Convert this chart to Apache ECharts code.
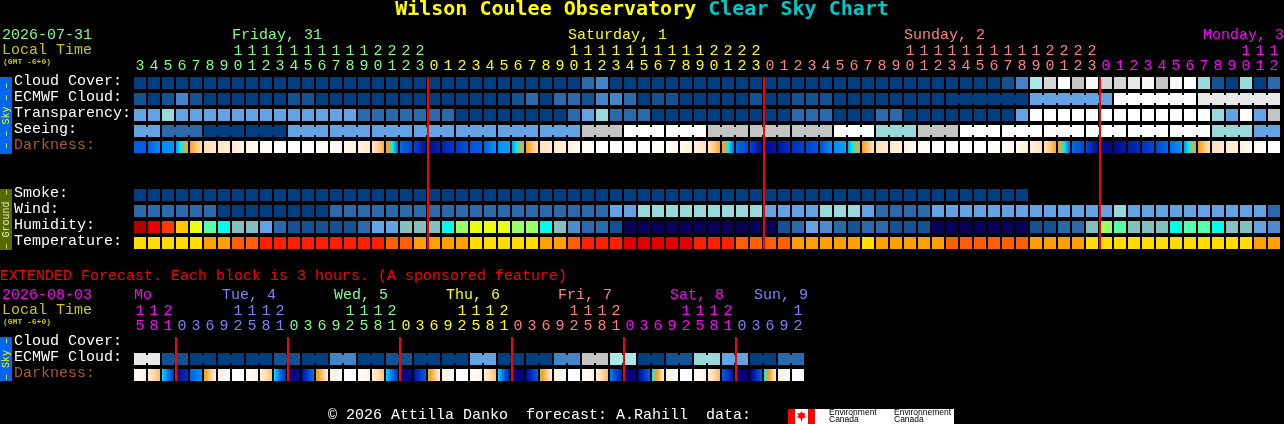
<!DOCTYPE html>
<html><head><meta charset="utf-8">
<style>html,body{margin:0;padding:0;background:#000;overflow:hidden}#c{width:1284px;height:424px}</style>
<script src="https://cdn.jsdelivr.net/npm/echarts@6/dist/echarts.min.js"></script>
</head><body><div id="c"></div>
<script>
// ---------- data ----------
const hours = [3,4,5,6,7,8,9,10,11,12,13,14,15,16,17,18,19,20,21,22,23,
  0,1,2,3,4,5,6,7,8,9,10,11,12,13,14,15,16,17,18,19,20,21,22,23,
  0,1,2,3,4,5,6,7,8,9,10,11,12,13,14,15,16,17,18,19,20,21,22,23,
  0,1,2,3,4,5,6,7,8,9,10,11,12];
const extHours = [15,18,21, 0,3,6,9,12,15,18,21, 0,3,6,9,12,15,18,21, 0,3,6,9,12,15,18,21,
  0,3,6,9,12,15,18,21, 0,3,6,9,12,15,18,21, 0,3,6,9,12];
const rowNames = ['Cloud Cover:','ECMWF Cloud:','Transparency:','Seeing:','Darkness:','','','Smoke:','Wind:','Humidity:','Temperature:'];
const extRowNames = ['Cloud Cover:','ECMWF Cloud:','Darkness:'];
const dayNames = ['Friday, 31','Saturday, 1','Sunday, 2','Monday, 3'];
const dayFirstCol = [0,21,45,69];
const extDayNames = ['Mo','Tue, 4','Wed, 5','Thu, 6','Fri, 7','Sat, 8','Sun, 9'];
const extDayFirstCol = [0,3,11,19,27,35,43];
const midnights = [21,45,69];
const extMidnights = [3,11,19,27,35,43];

const cloud = [0,0,0,0,0,0,0,0,0,0, 0,0,0,0,0,0,0,0,0,0, 0,0,0,0,0,0,0,0,0,0, 0,0,2,3,0,0,0,0,0,0,
  0,0,0,0,0,0,0,0,0,0, 0,0,0,0,0,0,0,0,0,0, 0,0,1,3,6,8,11,7,10,8, 8,9,10,7,10,11,5,1,0,5, 0,2];
const ecmwf = [1,0,1,3,1,0,0,0,0,0, 0,1,1,0,0,0,0,0,0,0, 0,0,0,0,0,0,0,1,2,0, 2,2,1,3,3,2,0,1,1,0,
  0,0,0,0,1,0,0,1,1,1, 0,0,0,0,0,0,0,0,0,0, 0,0,0,0,4,4,4,4,4,4, 11,11,11,11,11,11,9,9,9,9, 9,9];
const transparency = [4,4,5,4,4,4,4,4,4,4, 4,4,4,4,4,4,2,2,2,2, 2,2,2,0,0,0,0,0,0,0, 0,2,4,5,2,2,2,0,0,0,
  0,0,0,0,0,0,0,2,2,2, 0,0,0,2,2,0,0,0,0,0, 0,0,0,4,11,11,11,11,11,11, 11,11,11,11,11,11,11,5,4,11, 4,7];
const seeing = [4,4,2,2,2,0,0,0,0,0, 0,4,4,4,4,4,4,4,4,4, 4,4,4,4,4,4,4,4,4,4, 4,4,7,7,7,11,11,11,11,11,
  11,7,7,7,7,7,7,7,7,7, 11,11,11,5,5,5,7,7,7,11, 11,11,11,11,11,11,11,11,11,11, 11,11,11,11,11,11,11,5,5,5, 4,4];
const smoke = [0,0,0,0,0,0,0,0,0,0, 0,0,0,0,0,0,0,0,0,0, 0,0,0,0,0,0,0,0,0,0, 0,0,0,0,0,0,0,0,0,0,
  0,0,0,0,0,0,0,0,0,0, 0,0,0,0,0,0,0,0,0,0, 0,0,0,0];
const wind = [2,2,2,2,2,2,0,0,0,0, 0,0,0,0,2,2,2,2,2,2, 2,2,2,2,2,2,2,2,2,2, 2,2,2,2,4,4,5,5,5,5,
  5,5,5,5,5,4,4,4,4,5, 5,5,4,2,2,2,2,4,4,4, 4,4,4,4,4,4,4,4,4,4, 5,4,4,4,4,4,4,4,4,4, 4,2];
const humidity = [13,12,11,10,9,7,6,5,5,4, 2,1,1,1,1,1,2,4,4,5, 5,5,6,8,9,9,9,8,8,6, 5,3,2,2,1,0,0,0,0,0,
  0,0,0,0,0,0,1,2,4,3, 2,1,2,2,1,1,1,0,0,0, 0,0,0,0,1,1,2,2,5,8, 7,5,5,5,6,7,7,6,5,5, 4,3];
const temperature = [0,0,0,0,0,1,1,2,2,3, 3,3,3,3,3,3,3,3,2,2, 1,1,1,1,0,0,0,0,0,1, 1,2,3,3,3,4,4,4,4,4,
  3,3,3,2,2,2,2,1,1,1, 1,1,0,1,1,1,1,1,2,2, 2,2,2,2,1,1,1,1,0,0, 0,0,0,0,0,0,0,0,0,0, 1,1];
// darkness level at each hour boundary of the hourly chart (83 values)
const darknessEdges = [8,8,7.3,7.2,4,2.2,1.9,1.5,0.9,0.3, 0,0,0,0,0.3,0.8,1.1,1.7,3.8,7.8,
  8.5,9.7,9.3,8.8,8.3,8,7.2,7,4.2,2.1, 1.7,1.2,0.5,0,0,0,0,0,0.3,0.7,
  1.2,2,3.9,7.8,8.5,9.8,9.5,9,8.6,8.2, 7.3,7,4.1,2.1,1.7,1.2,0.5,0,0,0,
  0,0,0.3,0.7,1.2,2,4,7.8,8.5,9.8, 9.8,9.4,9,8.5,7.8,7.1,4.2,2.1,1.7,1.2, 0.5,0,0];
// blocks of cells that are joined together
const seeingBlocks = [2,3,3,3,3,3,3,3,3,3,3,3,3,3,3,3,3,3,3,3,3,3,3,3,3,3,3,2];
const ecmwfBlocks = [1,1,1,1,1,1,1,1,1,1,1,1,1,1,1,1,1,1,1,1,1,1,1,1,1,1,1,1,1,1,1,1,1,1,1,1,1,1,1,
  1,1,1,1,1,1,1,1,1,1,1,1,1,1,1,1,1,1,1,6,6,6,6];

const extEcmwf = [9,9,1,1,0,0,0,0,0,0, 1,1,0,0,3,3,0,0,1,1, 0,0,0,0,4,4,0,0,0,0, 3,3,7,7,6,6,0,0,1,1, 5,5,4,4,0,0,2,2];
const extEcmwfBlocks = [2,2,2,2,2,2,2,2,2,2,2,2,2,2,2,2,2,2,2,2,2,2,2,2];
const extDarkStart = [0,1.5,6.2,9.8,8,4.5,1.2,0,0.1,1.3, 6.2,9.9,9.6,4.8,1.2,0,0.1,1.3,6.3,9.7,
  9.6,4.8,1.2,0,0.1,1.3,6.3,10,9.8,4.8, 1.2,0,0.1,1.3,7.4,10,9.8,6,1.2,0, 0.1,1.3,8,10,10,6,1.2,0];
const extDarkEnd = [1.3,3.3,9,9,7.2,1.3,0.2,0,1,3.2, 9.2,9.8,7.6,1.4,0.2,0,1,3.2,9,9.9,
  8,1.4,0.2,0,1,3.3,9.5,10,8,1.4, 0.2,0,1,3.4,9.5,10,8,1.6,0.2,0, 1,3.5,9.8,10,8,1.6,0.2,0];

// ---------- styles and layout ----------
const sky = ['#003f7f','#135393','#2a6aaa','#4684c8','#63a3e3','#99d9d9','#a8e8e8','#c4c4c4','#d6d6d6','#e8e8e8','#f6f6f6','#ffffff'];
const humidityColors = ['#060058','#135393','#2a6aaa','#4a8ccc','#63a3e3','#84c0c0','#00ffe8','#55ffaa','#99ff66','#e8ff10','#ffc800','#ff3800','#e80000','#b00000'];
const tempColors = ['#ffdd00','#ff9f00','#ff5f00','#ff2000','#e00000'];
const darkStops = ['#ffffff','#fff4e4','#ffe4c0','#ffc880','#ffa020','#a0c060','#10e8e8','#00a0ff','#0060e0','#0030c0','#000080'];
const dayColors = ['#80ff80','#ffff00','#ff8080','#ff00ff'];
const extDayColors = ['#ff00ff','#8080ff','#80ff80','#ffff00','#ff8080','#ff00ff','#8080ff'];
const dayX = [232,568,904,1203];
const extDayX = [134,222,334,446,558,670,754];
const CELL = 14, RH = 16, BOX = 12, NECK = 8, LEFT = 133;
const MONO = '"Liberation Mono", monospace';
const FS = 15;

function lerpHex(a,b,t){
  const pa=[1,3,5].map(i=>parseInt(a.substr(i,2),16)), pb=[1,3,5].map(i=>parseInt(b.substr(i,2),16));
  return 'rgb('+pa.map((v,i)=>Math.round(v+(pb[i]-v)*t)).join(',')+')';
}
function darkColor(l){const i=Math.min(Math.floor(l),darkStops.length-2);return lerpHex(darkStops[i],darkStops[i+1],l-i);}
function darkFill(a,b){
  const stops=[{offset:0,color:darkColor(a)}];
  const lo=Math.min(a,b),hi=Math.max(a,b);
  for(let k=Math.ceil(lo);k<=Math.floor(hi);k++){
    if(hi>lo&&k>lo&&k<hi)stops.push({offset:(k-a)/(b-a),color:darkColor(k)});
  }
  stops.sort((p,q)=>p.offset-q.offset);
  stops.push({offset:1,color:darkColor(b)});
  return new echarts.graphic.LinearGradient(0,0,1,0,stops);
}
function neckSet(blocks){
  const s=new Set();let c=0;
  blocks.forEach(n=>{for(let i=0;i<n-1;i++)s.add(c+i);c+=n;});
  return s;
}
function cellSeries(name,values,palette,row,axis,blocks){
  const joined=blocks?neckSet(blocks):new Set();
  return {type:'custom',name,xAxisIndex:axis.x,yAxisIndex:axis.y,silent:true,clip:false,z:2,
    encode:{x:0,y:1},
    data:values.map((v,i)=>[i,row,v]),
    renderItem(params,api){
      const c=api.value(0),p=api.coord([c,api.value(1)]);
      const fill=palette[api.value(2)];
      const kids=[{type:'rect',shape:{x:p[0]-BOX/2,y:p[1]-BOX/2,width:BOX,height:BOX},style:{fill}}];
      if(joined.has(c))kids.push({type:'rect',shape:{x:p[0]+BOX/2,y:p[1]-NECK/2,width:CELL-BOX,height:NECK},style:{fill}});
      return {type:'group',children:kids};
    }};
}
function darkSeries(starts,ends,row,axis){
  return {type:'custom',name:'Darkness',xAxisIndex:axis.x,yAxisIndex:axis.y,silent:true,clip:false,z:2,
    encode:{x:0,y:1},
    data:starts.map((v,i)=>[i,row,v,ends[i]]),
    renderItem(params,api){
      const p=api.coord([api.value(0),api.value(1)]);
      return {type:'rect',shape:{x:p[0]-BOX/2,y:p[1]-BOX/2,width:BOX,height:BOX},
        style:{fill:darkFill(api.value(2),api.value(3))}};
    }};
}
function lineSeries(cols,firstRow,lastRow,axis){
  return {type:'custom',name:'Midnight',xAxisIndex:axis.x,yAxisIndex:axis.y,silent:true,clip:false,z:5,
    encode:{x:0},
    data:cols.map(c=>[c]),
    renderItem(params,api){
      const c=api.value(0),a=api.coord([c,firstRow]),b=api.coord([c,lastRow]);
      return {type:'rect',shape:{x:a[0]-BOX/2-1,y:a[1]-BOX/2,width:2,height:b[1]-a[1]+BOX},style:{fill:'#ff0000'}};
    }};
}
function pickColor(firsts,colors,i){let k=0;firsts.forEach((f,j)=>{if(i>=f)k=j;});return colors[k];}
function hourAxis(grid,data,firsts,colors,tens){
  return {type:'category',gridIndex:grid,position:'top',offset:tens?15:0,data:data.map(String),
    axisLine:{show:false},axisTick:{show:false},splitLine:{show:false},
    axisLabel:{show:true,interval:0,margin:1,hideOverlap:false,showMinLabel:true,showMaxLabel:true,
      fontFamily:MONO,fontSize:FS,
      color:(v,i)=>pickColor(firsts,colors,i),
      formatter:v=>{const h=+v;return tens?(h>=10?String(Math.floor(h/10)):''):String(h%10);}}};
}
function rowAxis(grid,names){
  return {type:'category',gridIndex:grid,inverse:true,data:names,
    axisLine:{show:false},axisTick:{show:false},splitLine:{show:false},
    axisLabel:{show:true,interval:0,align:'left',margin:LEFT-14,hideOverlap:false,
      fontFamily:MONO,fontSize:FS,verticalAlign:'bottom',lineHeight:4,
      color:v=>v==='Darkness:'?'#a85c2c':'#ffffff'}};
}
function txt(text,x,y,fill,opt){
  return {type:'text',x,y,silent:true,z:10,rotation:(opt&&opt.rotation)||0,
    style:Object.assign({text,fill,font:FS+'px '+MONO,textAlign:'left',textVerticalAlign:'middle',verticalAlign:'middle'},opt&&opt.style)};
}
const sideFont='10px '+MONO;
const graphics=[
  {type:'rect',shape:{x:0,y:77,width:12,height:77},style:{fill:'#0066ee'},silent:true},
  txt('\u2013 \u2013 Sky \u2013 \u2013',6,115.5,'#ffff00',{rotation:Math.PI/2,style:{font:sideFont,textAlign:'center'}}),
  {type:'rect',shape:{x:0,y:189,width:12,height:61},style:{fill:'#556b00'},silent:true},
  txt('\u2013 Ground \u2013',6,219.5,'#e8e8c0',{rotation:Math.PI/2,style:{font:sideFont,textAlign:'center'}}),
  {type:'rect',shape:{x:0,y:337,width:12,height:44},style:{fill:'#0066ee'},silent:true},
  txt('\u2013 Sky \u2013',6,359,'#ffff00',{rotation:Math.PI/2,style:{font:sideFont,textAlign:'center'}}),
  txt('2026-07-31',2,35,dayColors[0]),
  txt('Local Time',2,50,'#c8c800'),
  txt('(GMT -6+0)',3,62,'#c8c800',{style:{font:'bold 8px '+MONO}}),
  txt('EXTENDED Forecast. Each block is 3 hours. (A sponsored feature)',0,276,'#ff0000'),
  txt('2026-08-03',2,295,extDayColors[0]),
  txt('Local Time',2,310,'#c8c800'),
  txt('(GMT -6+0)',3,322,'#c8c800',{style:{font:'bold 8px '+MONO}}),
  txt('\u00a9 2026 Attilla Danko  forecast: A.Rahill  data:',328,415,'#ffffff'),
  {type:'rect',shape:{x:788,y:409,width:166,height:15},style:{fill:'#ffffff'},silent:true},
  {type:'rect',shape:{x:788,y:409,width:7,height:15},style:{fill:'#ff0000'},silent:true},
  {type:'rect',shape:{x:808,y:409,width:7,height:15},style:{fill:'#ff0000'},silent:true},
  {type:'polygon',silent:true,shape:{points:[[801.5,411],[803,413.5],[805.5,413],[804.5,416],[806,417],[802,419],[802,421],[801,421],[801,419],[797,417],[798.5,416],[797.5,413],[800,413.5]]},style:{fill:'#ff0000'}},
  txt('Environment',829,413,'#000000',{style:{font:'8.5px "Liberation Sans"'}}),
  txt('Canada',829,420,'#000000',{style:{font:'8.5px "Liberation Sans"'}}),
  txt('Environnement',894,413,'#000000',{style:{font:'8.5px "Liberation Sans"'}}),
  txt('Canada',894,420,'#000000',{style:{font:'8.5px "Liberation Sans"'}})
];
dayNames.forEach((t,i)=>graphics.push(txt(t,dayX[i],35,dayColors[i])));
extDayNames.forEach((t,i)=>graphics.push(txt(t,extDayX[i],295,extDayColors[i])));

const main={x:0,y:0}, ext={x:2,y:1};
const chart=echarts.init(document.getElementById('c'),null,{width:1284,height:424,renderer:'canvas'});
chart.setOption({
  animation:false,backgroundColor:'#000000',
  title:{left:'center',top:0,padding:0,text:'{a|Wilson Coulee Observatory }{b|Clear Sky Chart}',
    textStyle:{rich:{
      a:{fontFamily:'"DejaVu Sans Mono"',fontWeight:'bold',fontSize:20,color:'#ffff00'},
      b:{fontFamily:'"DejaVu Sans Mono"',fontWeight:'bold',fontSize:20,color:'#00c8c8'}}}},
  grid:[
    {left:LEFT,top:75,width:hours.length*CELL,height:rowNames.length*RH,outerBoundsMode:'none',containLabel:false},
    {left:LEFT,top:335,width:extHours.length*CELL,height:extRowNames.length*RH,outerBoundsMode:'none',containLabel:false}
  ],
  xAxis:[
    hourAxis(0,hours,dayFirstCol,dayColors,false),
    hourAxis(0,hours,dayFirstCol,dayColors,true),
    hourAxis(1,extHours,extDayFirstCol,extDayColors,false),
    hourAxis(1,extHours,extDayFirstCol,extDayColors,true)
  ],
  yAxis:[rowAxis(0,rowNames),rowAxis(1,extRowNames)],
  series:[
    cellSeries('Cloud Cover',cloud,sky,0,main),
    cellSeries('ECMWF Cloud',ecmwf,sky,1,main,ecmwfBlocks),
    cellSeries('Transparency',transparency,sky,2,main),
    cellSeries('Seeing',seeing,sky,3,main,seeingBlocks),
    darkSeries(darknessEdges.slice(0,-1),darknessEdges.slice(1),4,main),
    cellSeries('Smoke',smoke,sky,7,main),
    cellSeries('Wind',wind,sky,8,main),
    cellSeries('Humidity',humidity,humidityColors,9,main),
    cellSeries('Temperature',temperature,tempColors,10,main),
    lineSeries(midnights,0,10,main),
    cellSeries('ECMWF Cloud (extended)',extEcmwf,sky,1,ext,extEcmwfBlocks),
    darkSeries(extDarkStart,extDarkEnd,2,ext),
    lineSeries(extMidnights,0,2,ext)
  ],
  graphic:{elements:graphics}
});
</script></body></html>
